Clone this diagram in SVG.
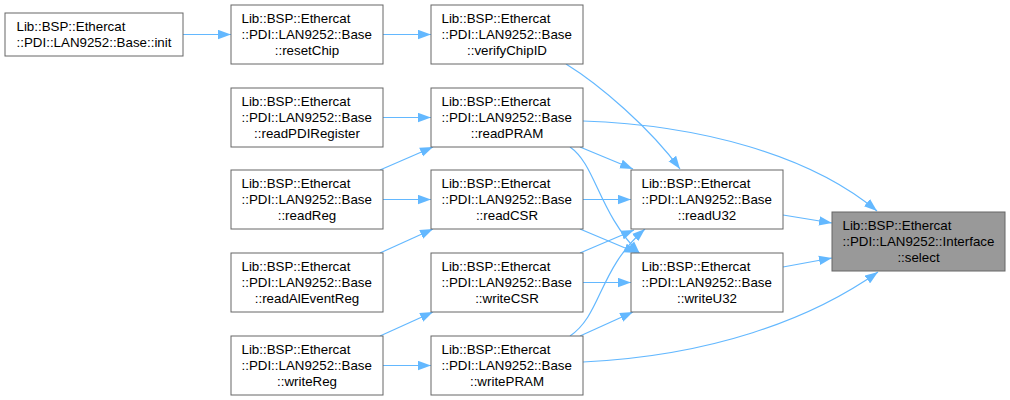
<svg xmlns="http://www.w3.org/2000/svg" width="1010" height="400" viewBox="0 0 1010 400">
<style>
.n rect{fill:#ffffff;stroke:#666666;stroke-width:1}
.n.sel rect{fill:#999999}
.n text{font-family:"Liberation Sans",Arial,sans-serif;font-size:13.33px;fill:#000000}
.n text.c{text-anchor:middle}
.e path{fill:none;stroke:#63b8ff;stroke-width:1.2}
</style>
<defs>
<marker id="ah" markerUnits="userSpaceOnUse" markerWidth="14" markerHeight="10" refX="13" refY="5" orient="auto" viewBox="0 0 14 10">
<path d="M0,0.3 L13,5 L0,9.7 z" fill="#63b8ff" stroke="none"/>
</marker>
</defs>
<rect width="1010" height="400" fill="#ffffff"/>
<g id="edges" class="e">
<path marker-end="url(#ah)" d="M183,34.5 L231,34.5"/>
<path marker-end="url(#ah)" d="M383,34.5 L431,34.5"/>
<path marker-end="url(#ah)" d="M566,64 C600,85 650,128 680,169"/>
<path marker-end="url(#ah)" d="M583,121 C700,125 810,155 877,211"/>
<path marker-end="url(#ah)" d="M383,117.5 L431,117.5"/>
<path marker-end="url(#ah)" d="M380,170 L433,147"/>
<path marker-end="url(#ah)" d="M383,199.5 L431,199.5"/>
<path marker-end="url(#ah)" d="M380,253 L433,229"/>
<path marker-end="url(#ah)" d="M380,336 L433,312"/>
<path marker-end="url(#ah)" d="M383,365.5 L431,365.5"/>
<path marker-end="url(#ah)" d="M580,147 L633,169"/>
<path marker-end="url(#ah)" d="M570,147 C596,165 598,212 640,254"/>
<path marker-end="url(#ah)" d="M583,199.5 L631,199.5"/>
<path marker-end="url(#ah)" d="M580,229 L637,253"/>
<path marker-end="url(#ah)" d="M580,253 L634,230"/>
<path marker-end="url(#ah)" d="M583,282.5 L631,282.5"/>
<path marker-end="url(#ah)" d="M570,336 C602,314 598,270 645,229"/>
<path marker-end="url(#ah)" d="M580,336 L633,312"/>
<path marker-end="url(#ah)" d="M583,362 C710,356 810,320 878,272"/>
<path marker-end="url(#ah)" d="M783,215 L832,223"/>
<path marker-end="url(#ah)" d="M783,267 L832,258"/>
</g>
<g id="node_init" class="n"><rect x="5" y="13" width="178" height="43"/><text x="16.5" y="30.5">Lib::BSP::Ethercat</text><text class="c" x="94" y="47">::PDI::LAN9252::Base::init</text></g>
<g id="node_resetChip" class="n"><rect x="231" y="5" width="152" height="59"/><text x="241.5" y="22.5">Lib::BSP::Ethercat</text><text x="241.5" y="38.8">::PDI::LAN9252::Base</text><text class="c" x="307" y="55">::resetChip</text></g>
<g id="node_verifyChipID" class="n"><rect x="431" y="5" width="152" height="59"/><text x="441.5" y="22.5">Lib::BSP::Ethercat</text><text x="441.5" y="38.8">::PDI::LAN9252::Base</text><text class="c" x="507" y="55">::verifyChipID</text></g>
<g id="node_readPDIRegister" class="n"><rect x="231" y="88" width="152" height="59"/><text x="241.5" y="105.5">Lib::BSP::Ethercat</text><text x="241.5" y="121.8">::PDI::LAN9252::Base</text><text class="c" x="307" y="138">::readPDIRegister</text></g>
<g id="node_readPRAM" class="n"><rect x="431" y="88" width="152" height="59"/><text x="441.5" y="105.5">Lib::BSP::Ethercat</text><text x="441.5" y="121.8">::PDI::LAN9252::Base</text><text class="c" x="507" y="138">::readPRAM</text></g>
<g id="node_readReg" class="n"><rect x="231" y="170" width="152" height="59"/><text x="241.5" y="187.5">Lib::BSP::Ethercat</text><text x="241.5" y="203.8">::PDI::LAN9252::Base</text><text class="c" x="307" y="220">::readReg</text></g>
<g id="node_readCSR" class="n"><rect x="431" y="170" width="152" height="59"/><text x="441.5" y="187.5">Lib::BSP::Ethercat</text><text x="441.5" y="203.8">::PDI::LAN9252::Base</text><text class="c" x="507" y="220">::readCSR</text></g>
<g id="node_readU32" class="n"><rect x="631" y="170" width="152" height="59"/><text x="641.5" y="187.5">Lib::BSP::Ethercat</text><text x="641.5" y="203.8">::PDI::LAN9252::Base</text><text class="c" x="707" y="220">::readU32</text></g>
<g id="node_readAlEventReg" class="n"><rect x="231" y="253" width="152" height="59"/><text x="241.5" y="270.5">Lib::BSP::Ethercat</text><text x="241.5" y="286.8">::PDI::LAN9252::Base</text><text class="c" x="307" y="303">::readAlEventReg</text></g>
<g id="node_writeCSR" class="n"><rect x="431" y="253" width="152" height="59"/><text x="441.5" y="270.5">Lib::BSP::Ethercat</text><text x="441.5" y="286.8">::PDI::LAN9252::Base</text><text class="c" x="507" y="303">::writeCSR</text></g>
<g id="node_writeU32" class="n"><rect x="631" y="253" width="152" height="59"/><text x="641.5" y="270.5">Lib::BSP::Ethercat</text><text x="641.5" y="286.8">::PDI::LAN9252::Base</text><text class="c" x="707" y="303">::writeU32</text></g>
<g id="node_writeReg" class="n"><rect x="231" y="336" width="152" height="59"/><text x="241.5" y="353.5">Lib::BSP::Ethercat</text><text x="241.5" y="369.8">::PDI::LAN9252::Base</text><text class="c" x="307" y="386">::writeReg</text></g>
<g id="node_writePRAM" class="n"><rect x="431" y="336" width="152" height="59"/><text x="441.5" y="353.5">Lib::BSP::Ethercat</text><text x="441.5" y="369.8">::PDI::LAN9252::Base</text><text class="c" x="507" y="386">::writePRAM</text></g>
<g id="node_select" class="n sel"><rect x="832" y="212" width="173" height="59"/><text x="842.5" y="229.5">Lib::BSP::Ethercat</text><text x="842.5" y="245.8">::PDI::LAN9252::Interface</text><text class="c" x="918.5" y="262">::select</text></g>
</svg>
